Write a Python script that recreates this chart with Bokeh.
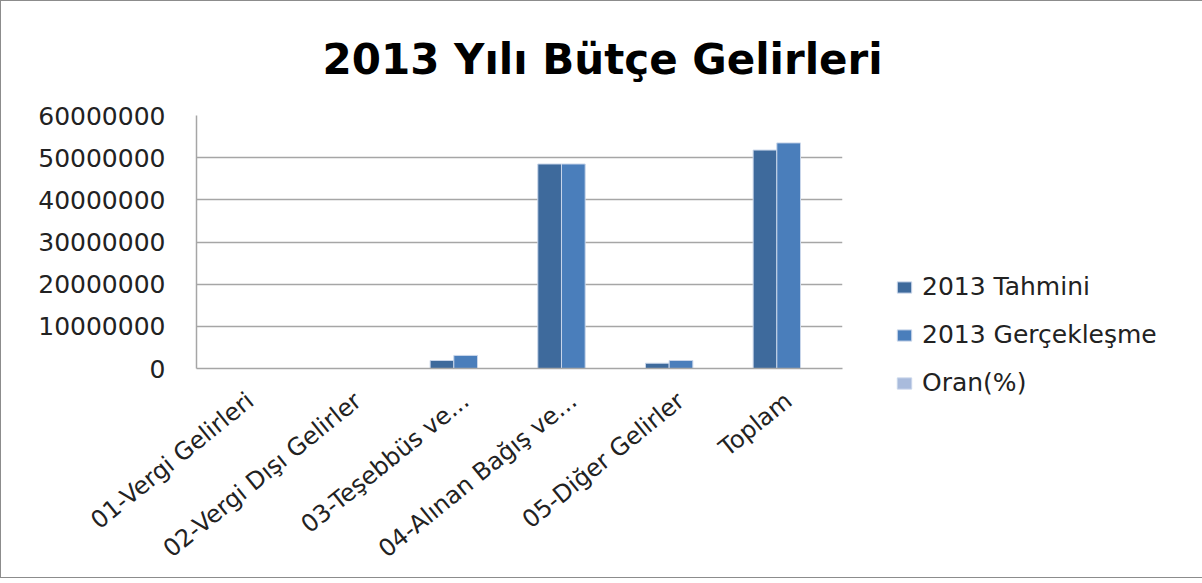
from bokeh.plotting import figure
from bokeh.models import (ColumnDataSource, FactorRange, Range1d, FixedTicker,
                          NumeralTickFormatter, Legend, LegendItem)
from bokeh.transform import dodge
from bokeh.embed import file_html
from bokeh.resources import INLINE

categories = ["01-Vergi Gelirleri", "02-Vergi Dışı Gelirler", "03-Teşebbüs ve...",
              "04-Alınan Bağış ve...", "05-Diğer Gelirler", "Toplam"]
tahmini = [0, 0, 1900000, 48500000, 1250000, 51800000]
gerceklesme = [0, 0, 3100000, 48500000, 1900000, 53500000]
oran = [0, 0, 160, 100, 150, 103]
series_names = ["2013 Tahmini", "2013 Gerçekleşme", "Oran(%)"]
y_ticks = [0, 10000000, 20000000, 30000000, 40000000, 50000000, 60000000]

src = ColumnDataSource(dict(cat=categories, t=tahmini, g=gerceklesme, o=oran))

p = figure(x_range=FactorRange(factors=categories), y_range=Range1d(0, 60000000),
           width=1185, height=565, frame_width=646, frame_height=253,
           min_border_left=195, min_border_right=344, min_border_top=114, min_border_bottom=198,
           output_backend="svg", toolbar_location=None, title="2013 Yılı Bütçe Gelirleri")
p.styles = {"border-left": "1px solid #8c8c8c", "border-top": "1px solid #8c8c8c",
            "border-bottom": "1px solid #8c8c8c"}

p.title.text_font = "DejaVu Sans"
p.title.text_font_size = "42px"
p.title.text_font_style = "bold"
p.title.text_color = "#000000"
p.title.align = "left"
p.title.offset = 126
p.title.standoff = 63

p.outline_line_color = None
p.background_fill_color = "white"
p.border_fill_color = "white"

width = 0.22
colors = ["#3E6A9C", "#4A7EBB", "#A9BBDC"]
edge = "#c9d6ea"
r1 = p.vbar(x=dodge("cat", -width, range=p.x_range), top="t", width=width, source=src,
            fill_color=colors[0], line_color=edge, line_width=1)
r2 = p.vbar(x=dodge("cat", 0, range=p.x_range), top="g", width=width, source=src,
            fill_color=colors[1], line_color=edge, line_width=1)
r3 = p.vbar(x=dodge("cat", width, range=p.x_range), top="o", width=width, source=src,
            fill_color=colors[2], line_color=edge, line_width=1)

legend = Legend(items=[LegendItem(label=series_names[0], renderers=[r1]),
                       LegendItem(label=series_names[1], renderers=[r2]),
                       LegendItem(label=series_names[2], renderers=[r3])],
                location=(53, -29))
legend.label_text_font = "DejaVu Sans"
legend.label_text_font_size = "25px"
legend.label_text_color = "#222222"
legend.glyph_width = 18
legend.glyph_height = 14
legend.label_standoff = 9
legend.spacing = 19
legend.padding = 0
legend.margin = 0
legend.border_line_color = None
legend.background_fill_alpha = 0
p.add_layout(legend, "right")

# axes
p.yaxis.ticker = FixedTicker(ticks=y_ticks)
p.yaxis.formatter = NumeralTickFormatter(format="0")
p.yaxis.major_label_text_font = "DejaVu Sans"
p.yaxis.major_label_text_font_size = "25px"
p.yaxis.major_label_text_color = "#222222"
p.yaxis.major_label_standoff = 31
p.yaxis.major_tick_line_color = None
p.yaxis.minor_tick_line_color = None
p.yaxis.major_tick_out = 0
p.yaxis.minor_tick_out = 0
p.yaxis.axis_line_color = "#a6a6a6"
p.yaxis.axis_line_width = 1.5

p.xaxis.major_label_orientation = 0.68
p.xaxis.major_label_text_font = "DejaVu Sans"
p.xaxis.major_label_text_font_size = "24px"
p.xaxis.major_label_text_color = "#222222"
p.xaxis.major_label_standoff = 29
p.xaxis.major_tick_line_color = None
p.xaxis.major_tick_out = 0
p.xaxis.minor_tick_out = 0
p.xaxis.axis_line_color = "#a6a6a6"
p.xaxis.axis_line_width = 1.5

p.xgrid.grid_line_color = None
p.ygrid.grid_line_color = "#a6a6a6"
p.ygrid.grid_line_width = 1.5

open("out.html", "w").write(file_html(p, INLINE))
